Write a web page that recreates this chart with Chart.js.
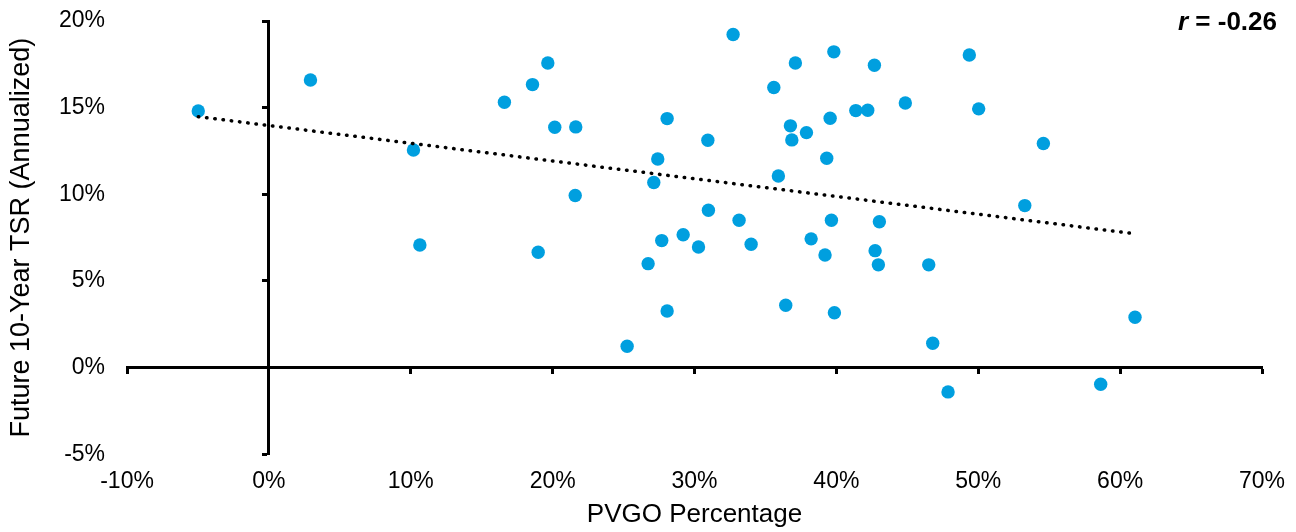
<!DOCTYPE html>
<html>
<head>
<meta charset="utf-8">
<script src="https://cdn.jsdelivr.net/npm/chart.js@4.4.1/dist/chart.umd.min.js"></script>
<style>
  html, body { margin: 0; padding: 0; background: #ffffff; }
  #c { display: block; }
</style>
</head>
<body>
<canvas id="c" width="1296" height="532"></canvas>
<script>
// ---- Data ----
const pvgoPct = [
  -4.98, 2.93, 10.19, 10.64, 16.6, 18.58, 19.66, 20.15, 21.63, 21.59,
  18.98, 28.07, 27.41, 27.13, 30.94, 30.98, 33.14, 27.69, 29.20, 30.28,
  26.73, 33.99, 32.72, 35.59, 37.11, 39.82, 36.76, 37.89, 36.86, 39.56,
  41.37, 35.91, 39.32, 39.65, 38.22, 39.20, 42.68, 49.37, 42.21, 44.86,
  50.03, 54.59, 53.28, 43.03, 42.73, 42.96, 46.51, 25.25, 28.07, 36.43,
  39.86, 46.79, 47.87, 58.63, 61.05
];
const futureTsr = [
  14.81, 16.6, 12.56, 7.08, 15.31, 16.33, 17.58, 13.87, 13.89, 9.93,
  6.66, 14.37, 12.04, 10.68, 13.12, 9.08, 8.50, 7.33, 7.67, 6.96,
  6.0, 7.12, 19.22, 16.16, 17.58, 18.22, 13.95, 13.56, 13.14, 14.39,
  14.83, 11.06, 12.08, 8.50, 7.43, 6.50, 17.45, 18.04, 14.85, 15.27,
  14.93, 12.93, 9.35, 8.42, 6.75, 5.93, 5.93, 1.23, 3.27, 3.6,
  3.17, 1.41, -1.40, -0.96, 2.91
];
const xTickValues = [-10, 0, 10, 20, 30, 40, 50, 60, 70];
const xTickLabels = ['-10%', '0%', '10%', '20%', '30%', '40%', '50%', '60%', '70%'];
const yTickValues = [-5, 0, 5, 10, 15, 20];
const yTickLabels = ['-5%', '0%', '5%', '10%', '15%', '20%'];
const xTitle = 'PVGO Percentage';
const yTitle = 'Future 10-Year TSR (Annualized)';
const corrSymbol = 'r';
const corrValueText = ' = -0.26';

// ---- Build library structures ----
const points = pvgoPct.map((x, i) => ({ x: x, y: futureTsr[i] }));

// least-squares trend line computed from the data
function linearFit(xs, ys) {
  const n = xs.length;
  const mx = xs.reduce((a, b) => a + b, 0) / n;
  const my = ys.reduce((a, b) => a + b, 0) / n;
  let sxy = 0, sxx = 0;
  for (let i = 0; i < n; i++) { sxy += (xs[i] - mx) * (ys[i] - my); sxx += (xs[i] - mx) ** 2; }
  const slope = sxy / sxx;
  return { slope: slope, intercept: my - slope * mx };
}
const fit = linearFit(pvgoPct, futureTsr);
const xMin = Math.min(...pvgoPct), xMax = Math.max(...pvgoPct);
const trendPoints = [xMin, xMax].map(x => ({ x: x, y: fit.intercept + fit.slope * x }));

const FONT = '"Liberation Sans", Arial, Helvetica, sans-serif';
Chart.defaults.font.family = FONT;
Chart.defaults.color = '#000';

const corrPlugin = {
  id: 'corrLabel',
  afterDraw(chart) {
    const ctx = chart.ctx;
    ctx.save();
    ctx.fillStyle = '#000';
    ctx.textBaseline = 'alphabetic';
    ctx.textAlign = 'left';
    const bold = 'bold 26px ' + FONT;
    const boldItalic = 'italic bold 26px ' + FONT;
    ctx.font = bold;
    const wRest = ctx.measureText(corrValueText).width;
    ctx.font = boldItalic;
    const wSym = ctx.measureText(corrSymbol).width;
    const right = chart.width - 19;
    const base = 29.5;
    ctx.font = boldItalic;
    ctx.fillText(corrSymbol, right - wRest - wSym, base);
    ctx.font = bold;
    ctx.fillText(corrValueText, right - wRest, base);
    ctx.restore();
  }
};

const setTicks = (values) => (scale) => { scale.ticks = values.map(v => ({ value: v })); };

new Chart(document.getElementById('c'), {
  type: 'scatter',
  data: {
    datasets: [
      {
        label: 'Trend',
        data: trendPoints,
        showLine: true,
        borderColor: '#000',
        borderWidth: 3.5,
        borderDash: [0.5, 7.8],
        borderCapStyle: 'round',
        pointRadius: 0,
        pointHoverRadius: 0,
        fill: false,
        order: 0
      },
      {
        label: 'PVGO vs TSR',
        data: points,
        backgroundColor: '#009FDF',
        borderColor: '#009FDF',
        borderWidth: 0,
        pointRadius: 6.7,
        pointHoverRadius: 6.7,
        order: 1
      }
    ]
  },
  options: {
    responsive: false,
    animation: false,
    devicePixelRatio: 1,
    layout: { padding: { left: 0, right: 34, top: 21, bottom: 1 } },
    plugins: { legend: { display: false }, tooltip: { enabled: false } },
    scales: {
      x: {
        type: 'linear',
        position: 'bottom',
        min: -10, max: 70,
        afterBuildTicks: setTicks(xTickValues),
        ticks: {
          callback: (v, i) => xTickLabels[i],
          color: '#000',
          font: { size: 23 },
          padding: 0,
          maxRotation: 0, minRotation: 0, autoSkip: false
        },
        grid: { display: false, drawTicks: true, tickLength: 14 },
        border: { display: false },
        title: { display: true, text: xTitle, color: '#000', font: { size: 26 }, padding: { top: 3.5, bottom: 0.4 } }
      },
      y: {
        type: 'linear',
        position: 'left',
        min: -5, max: 20,
        afterBuildTicks: setTicks(yTickValues),
        ticks: {
          callback: (v, i) => yTickLabels[i],
          color: '#000',
          font: { size: 23 },
          padding: 0,
          autoSkip: false
        },
        grid: { display: false, drawTicks: true, tickLength: 22 },
        border: { display: false },
        title: { display: true, text: yTitle, color: '#000', font: { size: 27 }, padding: { top: 5.5, bottom: 21.1 } }
      },
      x2: {
        type: 'linear',
        position: { y: 0 },
        min: -10, max: 70,
        afterBuildTicks: setTicks(xTickValues),
        ticks: { display: false },
        grid: { display: true, drawOnChartArea: false, drawTicks: true, tickLength: 5, tickWidth: 3, tickColor: '#000' },
        border: { display: true, color: '#000', width: 3 }
      },
      y2: {
        type: 'linear',
        position: { x: 0 },
        min: -5, max: 20,
        afterBuildTicks: setTicks(yTickValues),
        ticks: { display: false },
        grid: { display: true, drawOnChartArea: false, drawTicks: true, tickLength: 5, tickWidth: 3, tickColor: '#000' },
        border: { display: true, color: '#000', width: 3 }
      }
    }
  },
  plugins: [corrPlugin]
});
</script>
</body>
</html>
